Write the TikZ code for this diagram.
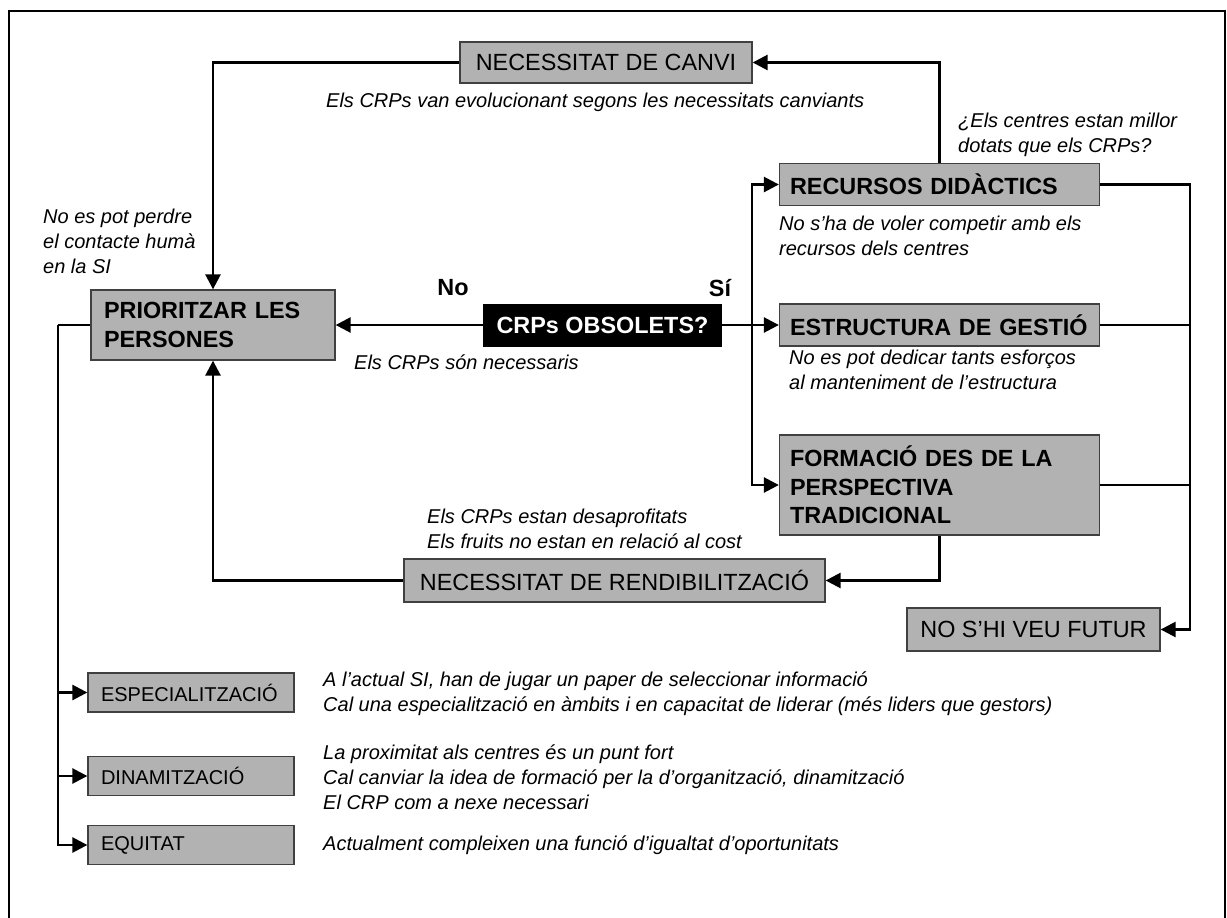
\documentclass[tikz,border=0pt]{standalone}
\usepackage{fontspec}
\setmainfont{Liberation Sans}
\usetikzlibrary{arrows.meta}

\begin{document}
\begin{tikzpicture}
    [x=1pt, y=-1pt,
    gsty/.style={rectangle, draw=black!75, fill=black!30, line width=1.3pt, inner xsep=13pt, inner ysep=0pt, font=\fontsize{23.4}{28}\selectfont},
    bsty/.style={gsty, font=\bfseries\fontsize{23.4}{28.5}\selectfont},
    ssty/.style={gsty, font=\fontsize{20}{24}\selectfont, minimum width=206pt, minimum height=39pt, text width=180pt, align=left},
    ksty/.style={rectangle, fill=black, text=white, inner sep=0pt, font=\bfseries\fontsize{23.4}{28}\selectfont},
    tsty/.style={anchor=west, inner sep=0pt, align=left, font=\itshape\fontsize{20}{25}\selectfont},
    asty/.style={-{Triangle[length=15pt, width=15pt]}, line width=2.6pt},
    lsty/.style={line width=2.6pt}]
    \useasboundingbox (0,0) rectangle (1227,918);
    % frame
    \draw[line width=1.6pt] (9,918) -- (9,11) -- (1225,11) -- (1225,918);
    % nodes
    \node[gsty, minimum width=292pt, minimum height=41pt] (canvi) at (606,62.5) {NECESSITAT DE CANVI};
    \node[bsty, minimum height=70pt, text width=218pt, align=left] (prio) at (213,325) {PRIORITZAR LES\\PERSONES};
    \node[ksty, minimum width=239pt, minimum height=43pt] (obs) at (602.5,325) {CRPs OBSOLETS?};
    \node[bsty, minimum height=42pt, text width=299pt, inner xsep=10.5pt, align=left] (recu) at (939.5,184.5) {RECURSOS DIDÀCTICS};
    \node[bsty, minimum height=42pt, text width=299pt, inner xsep=10.5pt, align=left] (estr) at (939.5,325) {ESTRUCTURA DE GESTIÓ};
    \node[bsty, minimum height=100pt, text width=299pt, inner xsep=10.5pt, align=left] (form) at (939.5,485) {FORMACIÓ DES DE LA\\PERSPECTIVA\\TRADICIONAL};
    \node[gsty, minimum width=421pt, minimum height=43pt] (rend) at (614.5,580.5) {NECESSITAT DE RENDIBILITZACIÓ};
    \node[gsty, minimum width=253pt, minimum height=43pt] (futur) at (1033.5,629.5) {NO S’HI VEU FUTUR};
    \node[ssty] (espe) at (191,692.5) {ESPECIALITZACIÓ};
    \node[ssty] (dina) at (191,776) {DINAMITZACIÓ};
    \node[ssty] (equi) at (191,845) {EQUITAT};
    \node[font=\bfseries\fontsize{23.4}{28}\selectfont] (no) at (453,288) {No};
    \node[font=\bfseries\fontsize{23.4}{28}\selectfont] (si) at (720,288) {Sí};
    % labels
    \node[tsty] (evol) at (326,102) {Els CRPs van evolucionant segons les necessitats canviants};
    \node[tsty] (huma) at (43,241) {No es pot perdre\\el contacte humà\\en la SI};
    \node[tsty] (dotats) at (958,135) {¿Els centres estan millor\\dotats que els CRPs?};
    \node[tsty] (compe) at (779,235.5) {No s’ha de voler competir amb els\\recursos dels centres};
    \node[tsty] (neces) at (354,362) {Els CRPs són necessaris};
    \node[tsty] (esfor) at (789,370) {No es pot dedicar tants esforços\\al manteniment de l’estructura};
    \node[tsty] (desap) at (427,528.5) {Els CRPs estan desaprofitats\\Els fruits no estan en relació al cost};
    \node[tsty] (paper) at (323,693.5) {A l’actual SI, han de jugar un paper de seleccionar informació\\Cal una especialització en àmbits i en capacitat de liderar (més liders que gestors)};
    \node[tsty] (proxi) at (323,777) {La proximitat als centres és un punt fort\\Cal canviar la idea de formació per la d’organització, dinamització\\El CRP com a nexe necessari};
    \node[tsty] (igual) at (323,845) {Actualment compleixen una funció d’igualtat d’oportunitats};
    % vertices
    \coordinate (lb) at (58,325);
    \coordinate (sp) at (752,325);
    \coordinate (rb) at (1190,184.5);
    \draw[asty] (canvi.west) -| (prio.north);
    \draw[asty] (recu.north) |- (canvi.east);
    \draw[asty] (obs.west) -- (prio.east);
    \draw[asty] (obs.east) -- (estr.west);
    \draw[asty] (sp) |- (recu.west);
    \draw[asty] (sp) |- (form.west);
    \draw[asty] (recu.east) -- (rb) |- (futur.east);
    \draw[lsty] (estr.east) -- (estr.east -| rb);
    \draw[lsty] (form.east) -- (form.east -| rb);
    \draw[asty] (form.south) |- (rend.east);
    \draw[asty] (rend.west) -| (prio.south);
    \draw[lsty] (prio.west) -- (lb);
    \draw[asty] (lb) |- (espe.west);
    \draw[asty] (lb) |- (dina.west);
    \draw[asty] (lb) |- (equi.west);
\end{tikzpicture}
\end{document}
